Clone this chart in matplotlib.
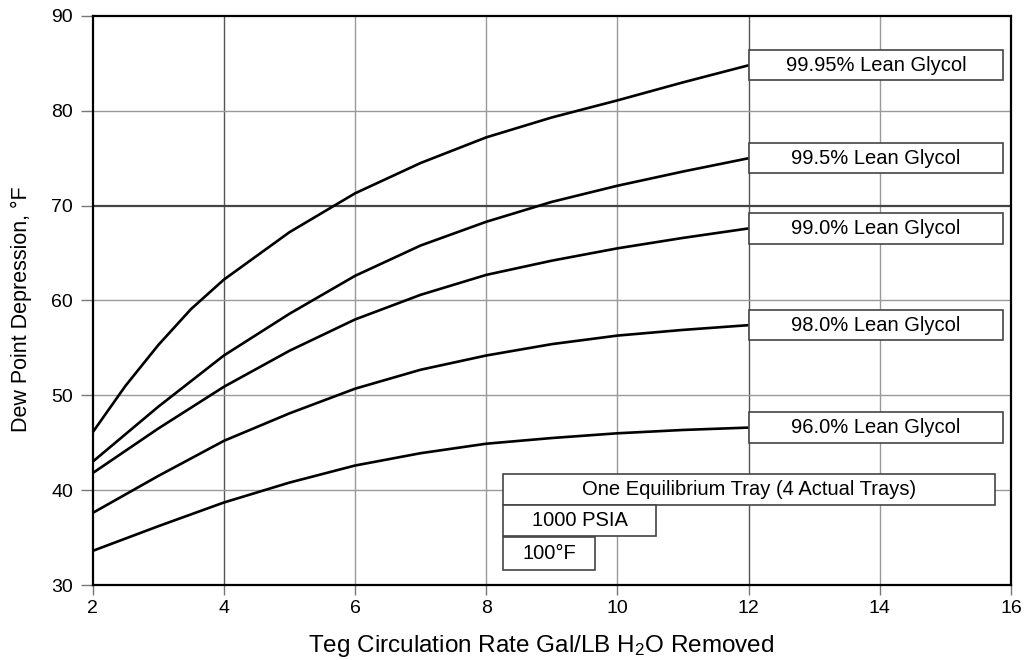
import numpy as np
import matplotlib
matplotlib.use("Agg")
from matplotlib import pyplot as plt
from matplotlib.patches import Rectangle

plt.rcParams['font.family'] = ['Liberation Sans', 'DejaVu Sans']

# circulation rate, gal TEG / lb water removed
rate = [2, 3, 4, 5, 6, 7, 8, 9, 10, 11, 12]
# the 99.95% curve bends hard at low rates, so it gets half steps there
rate_9995 = [2, 2.5, 3, 3.5, 4, 5, 6, 7, 8, 9, 10, 11, 12]

# dew point depression, deg F, for each lean glycol purity
dp_9995 = [46.1, 51.0, 55.3, 59.1, 62.2, 67.2, 71.3, 74.5, 77.2, 79.3, 81.1, 83.0, 84.8]
dp_995 = [43.0, 48.8, 54.2, 58.6, 62.6, 65.8, 68.3, 70.4, 72.1, 73.6, 75.0]
dp_990 = [41.8, 46.5, 50.9, 54.7, 58.0, 60.6, 62.7, 64.2, 65.5, 66.6, 67.6]
dp_980 = [37.6, 41.5, 45.2, 48.1, 50.7, 52.7, 54.2, 55.4, 56.3, 56.9, 57.4]
dp_960 = [33.6, 36.2, 38.7, 40.8, 42.6, 43.9, 44.9, 45.5, 46.0, 46.35, 46.6]

xs = [rate_9995, rate, rate, rate, rate]
curves = [dp_9995, dp_995, dp_990, dp_980, dp_960]
labels = ["99.95% Lean Glycol", "99.5% Lean Glycol", "99.0% Lean Glycol",
          "98.0% Lean Glycol", "96.0% Lean Glycol"]

notes = ["One Equilibrium Tray (4 Actual Trays)", "1000 PSIA", "100\u00b0F"]

xticks = [2, 4, 6, 8, 10, 12, 14, 16]
yticks = [30, 40, 50, 60, 70, 80, 90]

fig = plt.figure(figsize=(10.24, 6.6), dpi=100)
ax = fig.add_axes([0.0905, 0.1136, 0.8968, 0.8622])
ax.set_xlim(2, 16)
ax.set_ylim(30, 90)

# grid
for x in xticks[1:-1]:
    c = '#555555' if x in (4, 12) else '#999999'
    ax.axvline(x, color=c, lw=1.0, zorder=1)
for y in yticks[1:-1]:
    if y == 70:
        ax.axhline(y, color='#444444', lw=1.6, zorder=1)
    else:
        ax.axhline(y, color='#999999', lw=1.0, zorder=1)

for x, dp in zip(xs, curves):
    ax.plot(x, dp, color='black', lw=1.9, zorder=3, solid_capstyle='butt')

# label boxes at the end of each curve
box_h = 3.2
for dp, lab in zip(curves, labels):
    y_end = dp[-1]
    ax.add_patch(Rectangle((12, y_end - box_h / 2), 3.88, box_h,
                           facecolor='white', edgecolor='#444444', lw=1.2, zorder=4))
    ax.text(12 + 3.88 / 2, y_end, lab, ha='center', va='center',
            fontsize=14.5, zorder=5)

# operating conditions
note_boxes = [(8.26, 38.45, 7.49, 3.25), (8.26, 35.2, 2.33, 3.25), (8.26, 31.6, 1.4, 3.45)]
for (x0, y0, w, h), txt in zip(note_boxes, notes):
    ax.add_patch(Rectangle((x0, y0), w, h, facecolor='white',
                           edgecolor='#444444', lw=1.2, zorder=4))
    ax.text(x0 + w / 2, y0 + h / 2, txt, ha='center', va='center',
            fontsize=14.5, zorder=5)

ax.set_xticks(xticks)
ax.set_yticks(yticks)
ax.tick_params(axis='y', direction='out', length=9, width=1.0, color='#777777',
               labelsize=14, pad=5)
ax.tick_params(axis='x', direction='out', length=7, width=1.0, color='#777777',
               labelsize=14, pad=4)
for s in ax.spines.values():
    s.set_linewidth(1.6)
    s.set_zorder(6)

ax.set_xlabel("Teg Circulation Rate Gal/LB H$\\mathregular{_2}$O Removed", fontsize=17.5)
ax.set_ylabel("Dew Point Depression, \u00b0F", fontsize=15.5)
ax.xaxis.set_label_coords(0.488, -0.085)
ax.yaxis.set_label_coords(-0.066, 0.485)

fig.savefig("out.png", dpi=100)
